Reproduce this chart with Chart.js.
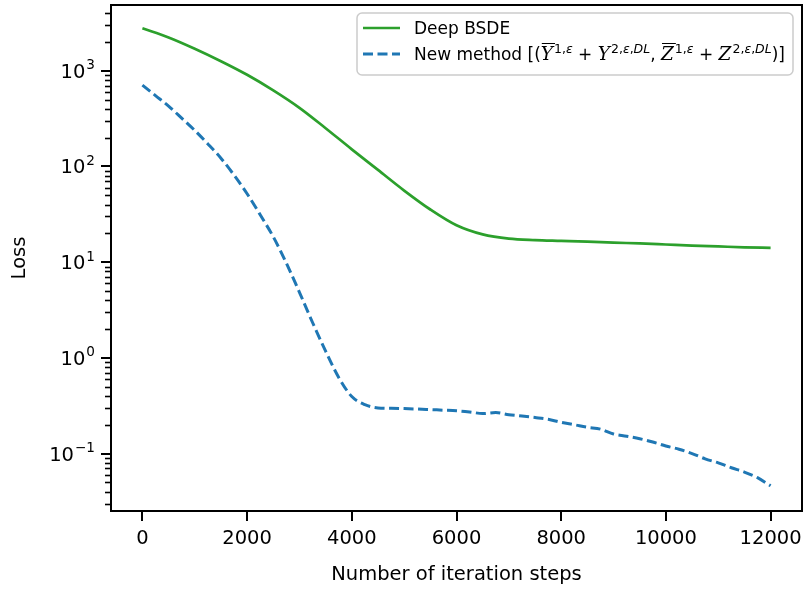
<!DOCTYPE html>
<html>
<head>
<meta charset="utf-8">
<script src="https://cdn.jsdelivr.net/npm/chart.js@4.4.1/dist/chart.umd.min.js"></script>
<style>
  html, body { margin: 0; padding: 0; background: #fff; }
  #wrap { width: 804px; height: 592px; }
</style>
</head>
<body>
<div id="wrap"><canvas id="lossChart" width="804" height="592"></canvas></div>
<script>
// values
const stepsDeep = [0, 500, 1000, 1500, 2000, 2500, 3000, 3500, 4000, 4500, 5000, 5500,
  6000, 6500, 7000, 7500, 8000, 8500, 9000, 9500, 10000, 10500, 11000, 11500, 12000];
const lossDeep = [2775, 2230, 1700, 1259, 908, 624, 410, 251, 151, 92, 56, 35.5,
  24.3, 19.5, 17.6, 17.0, 16.7, 16.4, 16.0, 15.7, 15.3, 14.9, 14.6, 14.3, 14.1];

const stepsNew = [0, 250, 500, 750, 1000, 1250, 1500, 1750, 2000, 2250, 2500, 2750,
  3000, 3250, 3500, 3750, 4000, 4250, 4500, 4750, 5000, 5250, 5500, 5750,
  6000, 6250, 6500, 6750, 7000, 7250, 7500, 7750, 8000, 8250, 8500, 8750,
  9000, 9250, 9500, 9750, 10000, 10250, 10500, 10750, 11000, 11250, 11500, 11750, 12000];
const lossNew = [708, 550, 427, 320, 238, 172, 122, 81.3, 51.9, 31.3, 18.4, 9.77,
  4.84, 2.34, 1.175, 0.624, 0.394, 0.324, 0.300, 0.297, 0.295, 0.292, 0.288, 0.284,
  0.280, 0.272, 0.262, 0.268, 0.255, 0.247, 0.238, 0.228, 0.212, 0.200, 0.188, 0.180,
  0.160, 0.152, 0.143, 0.132, 0.120, 0.111, 0.100, 0.088, 0.080, 0.071, 0.064, 0.056, 0.046];

const xTicks = [0, 2000, 4000, 6000, 8000, 10000, 12000];
const yTicks = [0.1, 1, 10, 100, 1000];
const yTickExps = ['−1', '0', '1', '2', '3'];

const GREEN = '#2ca02c';
const BLUE = '#1f77b4';
const FONT = '"DejaVu Sans", sans-serif';

Chart.defaults.font.family = FONT;
Chart.defaults.color = '#000';

// box around the plot, short minor ticks and 10^n labels on the log axis
const framePlugin = {
  id: 'frame',
  afterDraw(chart) {
    const { ctx, chartArea: a } = chart;
    const y = chart.scales.y;
    ctx.save();
    ctx.strokeStyle = '#000';
    ctx.lineWidth = 2;
    ctx.strokeRect(a.left, a.top, a.right - a.left, a.bottom - a.top);
    ctx.lineWidth = 1.6;
    for (let e = -2; e <= 3; e++) {
      for (let k = 2; k <= 9; k++) {
        const v = k * Math.pow(10, e);
        if (v < y.min || v > y.max) continue;
        const py = Math.round(y.getPixelForValue(v)) + 0.5;
        ctx.beginPath();
        ctx.moveTo(a.left - 6, py);
        ctx.lineTo(a.left, py);
        ctx.stroke();
      }
    }
    ctx.fillStyle = '#000';
    ctx.textBaseline = 'alphabetic';
    const xEnd = a.left - 16;
    yTicks.forEach((v, i) => {
      const py = y.getPixelForValue(v);
      ctx.font = '13.6px ' + FONT;
      const ew = ctx.measureText(yTickExps[i]).width;
      ctx.textAlign = 'left';
      ctx.fillText(yTickExps[i], xEnd - ew, py - 1.5);
      ctx.font = '19.5px ' + FONT;
      ctx.textAlign = 'right';
      ctx.fillText('10', xEnd - ew - 1, py + 7);
    });
    ctx.restore();
  }
};

// matplotlib-like legend with the math label
const legendPlugin = {
  id: 'mplLegend',
  afterDraw(chart) {
    const { ctx, chartArea: a } = chart;
    const box = { w: 436, h: 62 };
    box.x = a.right - 9 - box.w;
    box.y = a.top + 8;
    ctx.save();
    ctx.fillStyle = 'rgba(255,255,255,0.8)';
    ctx.strokeStyle = '#cccccc';
    ctx.lineWidth = 1.5;
    ctx.beginPath();
    ctx.roundRect(box.x, box.y, box.w, box.h, 5);
    ctx.fill();
    ctx.stroke();

    const lx = box.x + 6, lw = 37, tx = box.x + 57;
    const row1 = box.y + 15, row2 = box.y + 41;

    ctx.lineWidth = 2.6;
    ctx.strokeStyle = GREEN;
    ctx.beginPath(); ctx.moveTo(lx, row1); ctx.lineTo(lx + lw, row1); ctx.stroke();
    ctx.lineWidth = 3;
    ctx.strokeStyle = BLUE;
    ctx.setLineDash([10, 4.5]);
    ctx.beginPath(); ctx.moveTo(lx, row2); ctx.lineTo(lx + lw, row2); ctx.stroke();
    ctx.setLineDash([]);

    ctx.fillStyle = '#000';
    ctx.textBaseline = 'alphabetic';
    const base = '17px ' + FONT;
    ctx.font = base;
    ctx.fillText('Deep BSDE', tx, row1 + 6);

    const cal = 'italic 18.5px "DejaVu Serif", serif';
    const supN = '12.5px ' + FONT;
    const supI = 'italic 12.5px ' + FONT;
    const S = 1;
    const segs = [
      ['New method [(', base, 0],
      ['Y', cal, 0, true], ['1,', supN, S], ['ε', supI, S],
      [' + ', base, 0],
      ['Y', cal, 0], ['2,', supN, S], ['ε', supI, S], [',', supN, S], ['DL', supI, S],
      [', ', base, 0],
      ['Z', cal, 0, true], ['1,', supN, S], ['ε', supI, S],
      [' + ', base, 0],
      ['Z', cal, 0], ['2,', supN, S], ['ε', supI, S], [',', supN, S], ['DL', supI, S],
      [')]', base, 0]
    ];
    let x = tx;
    const baseY = row2 + 6;
    segs.forEach(([t, f, sup, bar]) => {
      ctx.font = f;
      let w = ctx.measureText(t).width;
      const yy = sup ? baseY - 7.5 : baseY;
      ctx.fillText(t, x, yy);
      if (f === cal) w += 1;
      if (bar) {
        ctx.lineWidth = 1;
        ctx.strokeStyle = '#000';
        ctx.beginPath();
        ctx.moveTo(x + 1, baseY - 16.5);
        ctx.lineTo(x + w + 1, baseY - 16.5);
        ctx.stroke();
      }
      x += w;
    });
    ctx.restore();
  }
};

new Chart(document.getElementById('lossChart'), {
  type: 'line',
  data: {
    datasets: [
      {
        label: 'Deep BSDE',
        data: stepsDeep.map((s, i) => ({ x: s, y: lossDeep[i] })),
        borderColor: GREEN,
        borderWidth: 2.7,
        pointRadius: 0,
        cubicInterpolationMode: 'monotone',
        fill: false
      },
      {
        label: 'New method',
        data: stepsNew.map((s, i) => ({ x: s, y: lossNew[i] })),
        borderColor: BLUE,
        borderWidth: 3,
        borderDash: [10, 4.5],
        pointRadius: 0,
        cubicInterpolationMode: 'monotone',
        fill: false
      }
    ]
  },
  options: {
    responsive: false,
    animation: false,
    layout: { padding: { left: 0, right: 2, top: 5, bottom: 0 } },
    plugins: {
      legend: { display: false },
      tooltip: { enabled: false }
    },
    scales: {
      x: {
        type: 'linear',
        min: -600,
        max: 12600,
        afterBuildTicks: (scale) => { scale.ticks = xTicks.map(v => ({ value: v })); },
        afterFit: (scale) => {
          scale.height = 81;
          scale.paddingLeft = 0;
          scale.paddingRight = 0;
        },
        border: { display: false },
        grid: { drawOnChartArea: false, drawTicks: true, tickLength: 10, tickWidth: 2, lineWidth: 2, color: '#000', tickColor: '#000' },
        ticks: {
          autoSkip: false,
          maxRotation: 0,
          padding: 6,
          font: { size: 19.5 },
          color: '#000',
          callback: (v) => String(v)
        },
        title: {
          display: true,
          text: 'Number of iteration steps',
          font: { size: 19.5 },
          color: '#000',
          padding: { top: 0, bottom: 5 }
        }
      },
      y: {
        type: 'logarithmic',
        min: 0.0251,
        max: 4866,
        afterBuildTicks: (scale) => { scale.ticks = yTicks.map(v => ({ value: v, major: true })); },
        afterFit: (scale) => {
          scale.width = 111;
          scale.paddingTop = 0;
          scale.paddingBottom = 0;
        },
        border: { display: false },
        grid: { drawOnChartArea: false, drawTicks: true, tickLength: 10, tickWidth: 2, lineWidth: 2, color: '#000', tickColor: '#000' },
        ticks: { display: false },
        title: {
          display: true,
          text: 'Loss',
          font: { size: 19.5 },
          color: '#000',
          padding: { top: 8, bottom: 0 }
        }
      }
    }
  },
  plugins: [framePlugin, legendPlugin]
});
</script>
</body>
</html>
